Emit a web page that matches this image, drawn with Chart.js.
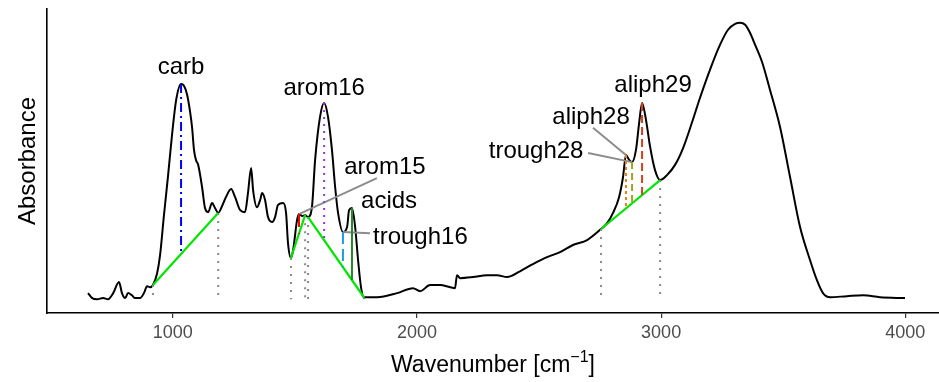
<!DOCTYPE html>
<html>
<head>
<meta charset="utf-8">
<title>Absorbance spectrum</title>
<script src="https://cdn.jsdelivr.net/npm/chart.js@4.4.0/dist/chart.umd.min.js"></script>
<style>
  html, body { margin: 0; padding: 0; background: #fff; }
  canvas { display: block; }
</style>
</head>
<body>
<canvas id="spectrum" width="939" height="382"></canvas>
<script>
// ---- data ----
const wavenumber = [
  653, 670, 690, 715, 735, 756, 780, 792, 805, 817, 833, 846, 866, 882, 895, 907, 919,
  936, 948, 964, 981, 997, 1014, 1034, 1046, 1059, 1071, 1079, 1087, 1095, 1104, 1120,
  1132, 1145, 1161, 1173, 1186, 1202, 1218, 1239, 1255, 1276, 1296, 1308, 1321, 1329,
  1345, 1358, 1366, 1378, 1390, 1407, 1419, 1431, 1452, 1464, 1472, 1484, 1493, 1509,
  1517, 1530, 1542, 1554, 1570, 1583, 1603, 1620, 1636, 1652, 1665, 1677, 1697, 1714,
  1722, 1734, 1747, 1759, 1771, 1783, 1808, 1837, 1919, 1984, 2013, 2054, 2095, 2136,
  2156, 2164, 2177, 2230, 2287, 2328, 2369, 2422, 2475, 2533, 2586, 2639, 2697, 2754,
  2779, 2803, 2828, 2844, 2856, 2869, 2881, 2897, 2910, 2922, 2938, 2955, 2975, 2996,
  3024, 3057, 3090, 3127, 3159, 3200, 3241, 3274, 3303, 3323, 3344, 3364, 3385, 3413,
  3446, 3487, 3528, 3569, 3610, 3638, 3663, 3692, 3761, 3827, 3896, 3999
];
const absorbance = [
  0.022, 0.004, 0.000, 0.004, 0.000, 0.022, 0.062, 0.022, 0.004, 0.022, 0.014, 0.004, 0.004, 0.022, 0.047, 0.043, 0.051,
  0.094, 0.159, 0.304, 0.449, 0.594, 0.721, 0.779, 0.772, 0.739, 0.678, 0.623, 0.540, 0.504, 0.486, 0.406,
  0.330, 0.315, 0.348, 0.330, 0.312, 0.337, 0.370, 0.399, 0.370, 0.322, 0.315, 0.384, 0.475, 0.395,
  0.333, 0.359, 0.384, 0.359, 0.297, 0.279, 0.297, 0.341, 0.348, 0.312, 0.203, 0.149, 0.178, 0.286,
  0.308, 0.301, 0.304, 0.297, 0.333, 0.504, 0.659, 0.710, 0.659, 0.540, 0.406, 0.312, 0.243, 0.261,
  0.322, 0.330, 0.261, 0.141, 0.043, 0.007, 0.007, 0.007, 0.022, 0.040, 0.029, 0.051, 0.051, 0.043,
  0.040, 0.087, 0.076, 0.080, 0.087, 0.087, 0.080, 0.101, 0.127, 0.152, 0.170, 0.196, 0.214, 0.254,
  0.275, 0.312, 0.370, 0.442, 0.522, 0.504, 0.496, 0.540, 0.638, 0.710, 0.649, 0.551, 0.467, 0.431,
  0.449, 0.486, 0.547, 0.641, 0.728, 0.830, 0.920, 0.975, 0.996, 1.000, 0.993, 0.964, 0.920, 0.859,
  0.757, 0.623, 0.442, 0.261, 0.141, 0.069, 0.022, 0.007, 0.011, 0.014, 0.007, 0.004
];
const tickValues = [1000, 2000, 3000, 4000];

// local baselines (start / end wavenumber)
const baselineStart = [919, 1484, 1554, 2754];
const baselineEnd = [1186, 1542, 1783, 2996];

// band markers
const bandNames = ['carb', 'arom15', 'arom16', 'trough16', 'acids', 'aliph28', 'trough28', 'aliph29'];
const bandPeak = [1034, 1517, 1620, 1697, 1734, 2856, 2881, 2922];

// ---- annotation layout (data units) ----
const labelAt = [[1034, 0.837], [1869, 0.478], [1620, 0.764], [2014, 0.225], [1886, 0.355], [2713, 0.659], [2488, 0.536], [2967, 0.775]];
const leaderTo = [null, [1836, 0.438], null, [1808, 0.239], null, [2721, 0.620], [2701, 0.529], null];
const bandStyle = [
  { color: '#0000ff', dash: [9, 4, 2, 4] },
  { color: '#ff0000', dash: [13, 6] },
  { color: '#9b30e8', dash: [2, 5] },
  { color: '#1aa0d8', dash: [12, 5] },
  { color: '#228b22', dash: [] },
  { color: '#ee7a10', dash: [3, 3] },
  { color: '#a8a020', dash: [7, 4] },
  { color: '#d2421a', dash: [8, 4] }
];

const FONT = '"Liberation Sans", Arial, Helvetica, sans-serif';

function specAt(wn) {
  for (let i = 1; i < wavenumber.length; i++) {
    if (wn <= wavenumber[i]) {
      const t = (wn - wavenumber[i - 1]) / (wavenumber[i] - wavenumber[i - 1]);
      return absorbance[i - 1] + t * (absorbance[i] - absorbance[i - 1]);
    }
  }
  return absorbance[absorbance.length - 1];
}

function baseAt(wn) {
  for (let i = 0; i < baselineStart.length; i++) {
    const a = baselineStart[i], b = baselineEnd[i];
    if (wn >= a && wn <= b) {
      const t = (wn - a) / (b - a);
      return specAt(a) + t * (specAt(b) - specAt(a));
    }
  }
  return 0;
}

const seg = (pts, color, width, dash, order) => ({
  data: pts, borderColor: color, borderWidth: width, borderDash: dash,
  pointRadius: 0, fill: false, tension: 0, order: order, borderCapStyle: 'butt'
});

const datasets = [];
datasets.push({
  data: wavenumber.map((w, i) => ({ x: w, y: absorbance[i] })),
  borderColor: '#000', borderWidth: 2, pointRadius: 0, fill: false,
  cubicInterpolationMode: 'monotone', order: 10
});
// gray dotted drop lines at baseline ends
baselineStart.concat(baselineEnd).forEach(w => {
  datasets.push(seg([{ x: w, y: specAt(w) }, { x: w, y: 0 }], '#8a8a8a', 2, [2, 6], 9));
});
// green baselines
baselineStart.forEach((a, i) => {
  const b = baselineEnd[i];
  datasets.push(seg([{ x: a, y: specAt(a) }, { x: b, y: specAt(b) }], '#00e600', 2.2, [], 5));
});
// band markers + leader lines
bandPeak.forEach((w, i) => {
  const st = bandStyle[i];
  datasets.push(seg([{ x: w, y: specAt(w) }, { x: w, y: baseAt(w) }], st.color, 2, st.dash, 3));
  if (leaderTo[i]) {
    datasets.push(seg([{ x: w, y: specAt(w) }, { x: leaderTo[i][0], y: leaderTo[i][1] }], '#8c8c8c', 2, [], 4));
  }
});

const annotate = {
  id: 'annotate',
  afterDatasetsDraw(chart) {
    const { ctx, scales: { x, y }, chartArea } = chart;
    ctx.save();
    ctx.fillStyle = '#000';
    ctx.font = '24px ' + FONT;
    ctx.textAlign = 'center';
    ctx.textBaseline = 'middle';
    bandNames.forEach((name, i) => {
      ctx.fillText(name, x.getPixelForValue(labelAt[i][0]), y.getPixelForValue(labelAt[i][1]));
    });

    // x axis title with superscript
    const main = 'Wavenumber [cm', sup = '\u22121', tail = ']';
    ctx.font = '23px ' + FONT;
    const w1 = ctx.measureText(main).width, w3 = ctx.measureText(tail).width;
    ctx.font = '16px ' + FONT;
    const w2 = ctx.measureText(sup).width;
    const cx = (chartArea.left + chartArea.right) / 2;
    let sx = cx - (w1 + w2 + w3) / 2;
    const base = 372;
    ctx.textAlign = 'left';
    ctx.textBaseline = 'alphabetic';
    ctx.font = '23px ' + FONT;
    ctx.fillText(main, sx, base);
    ctx.font = '16px ' + FONT;
    ctx.fillText(sup, sx + w1, base - 10);
    ctx.font = '23px ' + FONT;
    ctx.fillText(tail, sx + w1 + w2, base);
    ctx.restore();
  }
};

new Chart(document.getElementById('spectrum'), {
  type: 'line',
  data: { datasets },
  plugins: [annotate],
  options: {
    responsive: false,
    animation: false,
    layout: { padding: { top: 9, right: 0, bottom: 0, left: 0 } },
    plugins: { legend: { display: false }, tooltip: { enabled: false } },
    scales: {
      x: {
        type: 'linear', min: 485, max: 4138,
        border: { display: true, color: '#000', width: 1.6 },
        grid: { drawOnChartArea: false, drawTicks: true, tickLength: 5, color: '#333', lineWidth: 1.2 },
        ticks: { color: '#4d4d4d', font: { size: 18, family: FONT }, padding: 4, maxRotation: 0, callback: v => String(v) },
        afterBuildTicks: s => { s.ticks = tickValues.map(v => ({ value: v })); },
        afterFit: s => { s.height = 69; }
      },
      y: {
        min: -0.05, max: 1.05,
        ticks: { display: false },
        grid: { display: false },
        border: { display: true, color: '#000', width: 1.6 },
        title: { display: true, text: 'Absorbance', color: '#000', font: { size: 24, family: FONT }, padding: { top: 13.6, bottom: 0 } },
        afterFit: s => { s.width = 47; }
      }
    }
  }
});
</script>
</body>
</html>
